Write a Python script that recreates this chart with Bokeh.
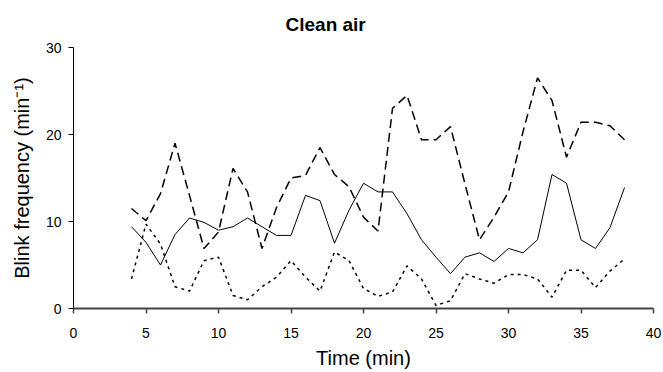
from bokeh.plotting import figure
from bokeh.models import Range1d, FixedTicker
from bokeh.embed import file_html
from bokeh.resources import INLINE

time_min = list(range(4, 39))
solid = [9.4, 7.6, 5.0, 8.5, 10.4, 9.9, 9.0, 9.4, 10.4, 9.4, 8.4, 8.4, 13.0, 12.4, 7.5, 11.3,
         14.4, 13.4, 13.4, 10.9, 7.9, 5.9, 4.0, 5.9, 6.4, 5.4, 6.9, 6.4, 7.9, 15.4, 14.4, 7.9,
         6.9, 9.3, 13.9]
dashed = [11.5, 10.1, 13.2, 19.0, 13.0, 6.9, 8.8, 16.1, 13.4, 6.9, 11.6, 15.0, 15.3, 18.5, 15.4, 14.0,
          10.5, 8.9, 23.0, 24.5, 19.4, 19.4, 20.9, 14.3, 7.9, 10.5, 13.4, 20.3, 26.5, 23.9, 17.4, 21.4,
          21.4, 21.0, 19.4]
dotted = [3.4, 9.7, 7.4, 2.5, 2.0, 5.5, 5.9, 1.5, 1.0, 2.5, 3.6, 5.5, 3.6, 2.0, 6.5, 5.5,
          2.3, 1.4, 1.9, 4.9, 3.4, 0.35, 0.9, 4.0, 3.4, 2.9, 3.9, 3.9, 3.4, 1.3, 4.4, 4.4,
          2.4, 4.3, 5.7]
x_ticks = [0, 5, 10, 15, 20, 25, 30, 35, 40]
y_ticks = [0, 10, 20, 30]

p = figure(width=663, height=372, output_backend="svg", toolbar_location=None,
           x_range=Range1d(0, 40), y_range=Range1d(0, 30),
           min_border_left=73, min_border_right=10, min_border_top=47, min_border_bottom=64)

p.title.text = "Clean air"
p.title.text_font = "Liberation Sans"
p.title.text_font_size = "19px"
p.title.text_font_style = "bold"
p.title.text_color = "black"
p.title.align = "left"
p.title.offset = 212
p.title.standoff = 22
p.title.vertical_align = "top"

p.outline_line_color = None
p.xgrid.visible = False
p.ygrid.visible = False
p.background_fill_color = "white"

for ax in (p.xaxis[0], p.yaxis[0]):
    ax.major_tick_in = 0
    ax.major_tick_out = 5
    ax.minor_tick_line_color = None
    ax.major_label_text_font = "Liberation Sans"
    ax.major_label_text_font_size = "14px"
    ax.major_label_text_color = "black"
    ax.axis_label_text_font = "Liberation Sans"
    ax.axis_label_text_font_size = "20px"
    ax.axis_label_text_font_style = "normal"
    ax.axis_label_text_color = "black"

p.xaxis.axis_line_color = "#444444"
p.xaxis.axis_line_width = 2
p.xaxis.major_tick_line_color = "#444444"
p.xaxis.major_tick_line_width = 1.5
p.yaxis.axis_line_color = "black"
p.yaxis.axis_line_width = 1
p.yaxis.major_tick_line_color = "black"

p.xaxis.ticker = FixedTicker(ticks=x_ticks)
p.yaxis.ticker = FixedTicker(ticks=y_ticks)
p.xaxis.major_label_standoff = 14
p.yaxis.major_label_standoff = 7
p.xaxis.axis_label = "Time (min)"
p.yaxis.axis_label = "Blink frequency (min\u207b\u00b9)"
p.xaxis.axis_label_standoff = 6
p.yaxis.axis_label_standoff = 10

p.line(time_min, dashed, line_color="black", line_width=1.5, line_dash="9 5")
p.line(time_min, dotted, line_color="black", line_width=1.5, line_dash="3 4")
p.line(time_min, solid, line_color="black", line_width=1)

open("out.html", "w").write(file_html(p, INLINE))
